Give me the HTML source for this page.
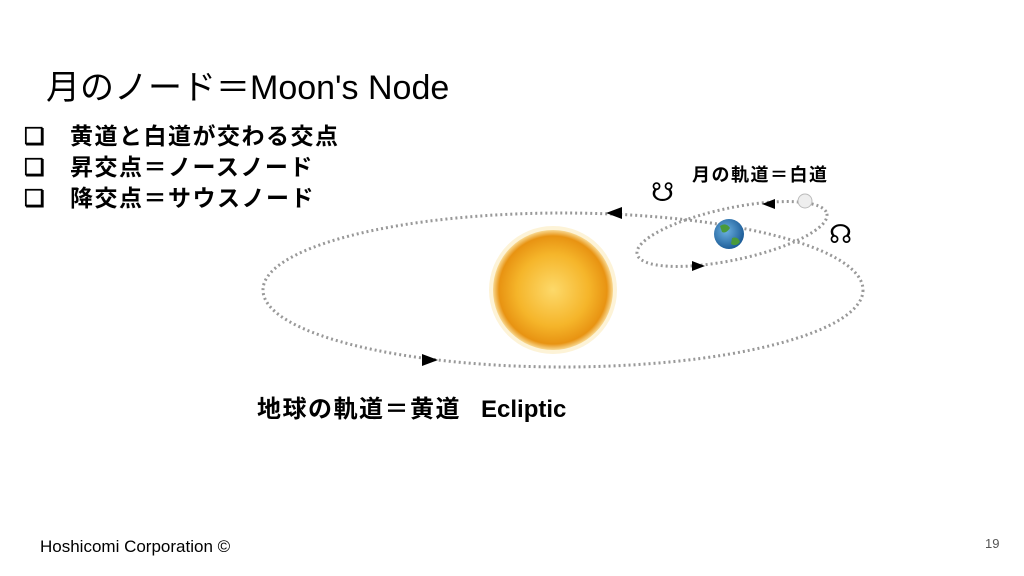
<!DOCTYPE html>
<html><head><meta charset="utf-8"><style>
body{margin:0;width:1024px;height:576px;background:#fff;overflow:hidden;position:relative;font-family:"Liberation Sans","Noto Sans CJK JP",sans-serif}
.t{position:absolute;white-space:nowrap;color:#000}
</style></head><body>
<div class="t" style="left:46px;top:60px;font-size:34px">月のノード＝Moon's Node</div>
<div class="t" style="left:24px;top:121px;font-size:23px;font-weight:bold;line-height:31px">
<div><span style="display:inline-block;width:46px">❏</span><span style="letter-spacing:1.5px">黄道と白道が交わる交点</span></div>
<div><span style="display:inline-block;width:46px">❏</span><span style="letter-spacing:1.5px">昇交点＝ノースノード</span></div>
<div><span style="display:inline-block;width:46px">❏</span><span style="letter-spacing:1.5px">降交点＝サウスノード</span></div>
</div>
<div class="t" style="left:692px;top:161px;font-size:18px;font-weight:bold;letter-spacing:1.5px">月の軌道＝白道</div>
<div class="t" style="left:651px;top:178px;font-size:26px;font-family:'DejaVu Serif',serif">☋</div>
<div class="t" style="left:829px;top:220px;font-size:26px;font-family:'DejaVu Serif',serif">☊</div>
<div class="t" style="left:257px;top:389px;font-size:24px;font-weight:bold"><span style="letter-spacing:1.5px">地球の軌道＝黄道</span>&nbsp;&nbsp;&nbsp;Ecliptic</div>
<div class="t" style="left:40px;top:537px;font-size:17px">Hoshicomi Corporation ©</div>
<div class="t" style="left:985px;top:536px;font-size:13px;color:#555">19</div>
<svg width="1024" height="576" style="position:absolute;left:0;top:0">
<defs>
<radialGradient id="sun" cx="50%" cy="50%" r="50%">
<stop offset="0" stop-color="#fdd96a"/><stop offset="0.6" stop-color="#f5b52a"/><stop offset="0.9" stop-color="#e89312"/><stop offset="1" stop-color="#f8d890"/>
</radialGradient>
<radialGradient id="earth" cx="40%" cy="40%" r="60%">
<stop offset="0" stop-color="#6bb0e0"/><stop offset="1" stop-color="#1f5f9a"/>
</radialGradient>
</defs>
<ellipse cx="563" cy="290" rx="300" ry="77" fill="none" stroke="#999" stroke-width="3" stroke-dasharray="2 3"/>
<ellipse cx="732" cy="234" rx="97" ry="26" transform="rotate(-12 732 234)" fill="none" stroke="#999" stroke-width="3" stroke-dasharray="2 3"/>
<circle cx="553" cy="290" r="64" fill="#fbe8b0" opacity="0.5"/>
<circle cx="553" cy="290" r="60" fill="url(#sun)"/>
<circle cx="729" cy="234" r="15" fill="url(#earth)"/>
<path d="M720 226 q6 -4 10 2 q-4 6 -8 4z M732 238 q6 -2 8 4 q-4 5 -9 2z" fill="#4a9a3a"/>
<circle cx="805" cy="201" r="7" fill="#eee" stroke="#bbb"/>
<polygon points="606,213 622,207 622,219" fill="#000"/>
<polygon points="438,360 422,354 422,366" fill="#000"/>
<polygon points="762,204 775,199 775,209" fill="#000"/>
<polygon points="705,266 692,261 692,271" fill="#000"/>
</svg>
</body></html>
